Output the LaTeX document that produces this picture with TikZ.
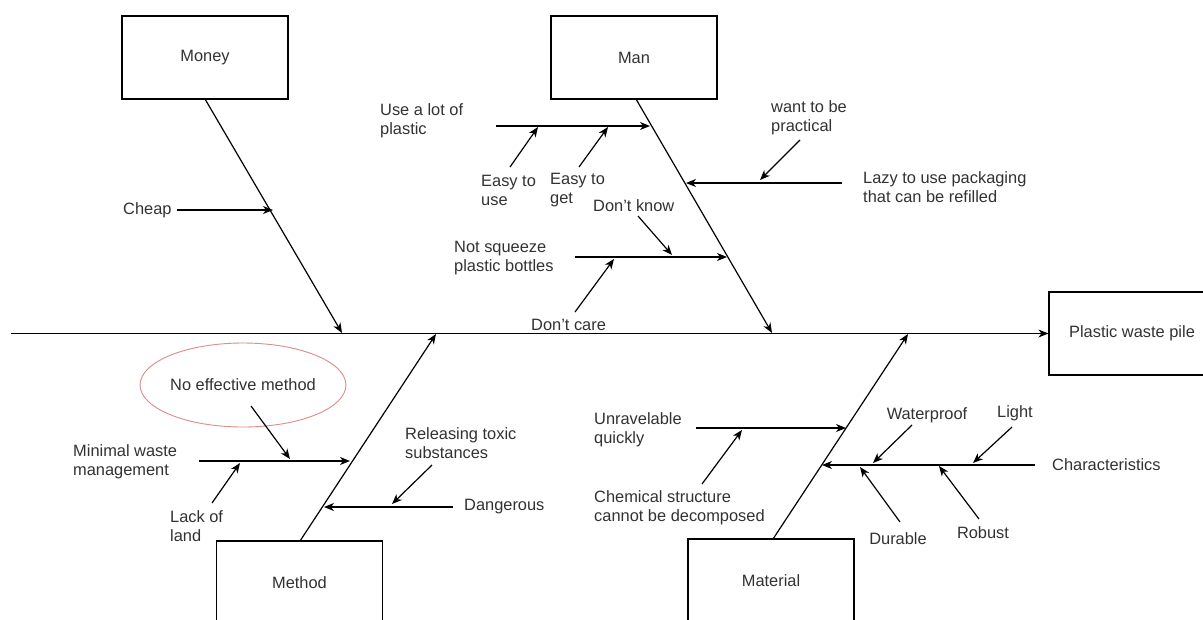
\documentclass[tikz,border=0pt]{standalone}
\usepackage{fontspec}
\setmainfont{Liberation Sans}
\usetikzlibrary{arrows.meta,shapes.geometric}
\definecolor{txt}{RGB}{50,50,50}
\definecolor{ellred}{RGB}{220,140,140}
\tikzset{
  lbl/.style={font=\fontsize{16.4}{19}\selectfont, text=txt, inner sep=0pt, align=left},
  cbox/.style={draw, line width=1.2pt, minimum width=166pt, minimum height=83pt, inner sep=0pt, font=\fontsize{16.4}{19}\selectfont, text=txt},
  arr/.style={line width=1.2pt, -{Stealth[length=10pt,width=8pt,inset=3pt]}},
  bone/.style={line width=1.2pt}
}
\begin{document}
\begin{tikzpicture}[x=1pt,y=-1pt]
\useasboundingbox (0,0) rectangle (1203,619);
\fill[white] (0,0) rectangle (1203,619);
\clip (0,0) rectangle (1203,619);

% category boxes
\node[cbox] (money) at (205,57.5) {Money};
\node[cbox] (man) at (634,57.5) {Man};
\node[cbox] (method) at (299.5,582.5) {Method};
\node[cbox] (material) at (771,580.5) {Material};
\node[cbox] (pile) at (1132,333.5) {Plastic waste pile};

% spine
\coordinate (tail) at (11,333.5);
\draw[arr] (tail) -- (pile.west);

% junctions on spine
\coordinate (jmoney) at (342,333);
\coordinate (jman) at (772,333);
\coordinate (jmethod) at (436,334);
\coordinate (jmaterial) at (908,334);
\coordinate (smoney) at (205,99);
\coordinate (sman) at (636,99);
\coordinate (smethod) at (300,541);
\coordinate (smaterial) at (773,539);
\draw[arr] (smoney) -- (jmoney);
\draw[arr] (sman) -- (jman);
\draw[arr] (smethod) -- (jmethod);
\draw[arr] (smaterial) -- (jmaterial);

% ---------- Money ----------
\node[lbl, anchor=west] (cheap) at (123,210) {Cheap};
\coordinate (cheapS) at (177,210);
\coordinate (cheapE) at (273,210);
\draw[arr] (cheapS) -- (cheapE);

% ---------- Man ----------
\node[lbl, anchor=west] (alot) at (380,121) {Use a lot of\\plastic};
\coordinate (alotS) at (496,126);
\coordinate (alotE) at (650,126);
\draw[arr] (alotS) -- (alotE);

\node[lbl, anchor=west] (easyuse) at (481,190) {Easy to\\use};
\coordinate (easyuseS) at (510,167);
\coordinate (easyuseE) at (538,127);
\draw[arr] (easyuseS) -- (easyuseE);

\node[lbl, anchor=west] (easyget) at (550,190) {Easy to\\get};
\coordinate (easygetS) at (579,167);
\coordinate (easygetE) at (608,127);
\draw[arr] (easygetS) -- (easygetE);

\node[lbl, anchor=west] (practical) at (771,118) {want to be\\practical};
\coordinate (practicalS) at (800,140);
\coordinate (practicalE) at (760,180);
\draw[arr] (practicalS) -- (practicalE);

\node[lbl, anchor=west] (lazy) at (863,187.5) {Lazy to use packaging\\that can be refilled};
\coordinate (lazyS) at (842,183);
\coordinate (lazyE) at (686,183);
\draw[arr] (lazyS) -- (lazyE);

\node[lbl, anchor=west] (dknow) at (593,206) {Don't know};
\coordinate (dknowS) at (638,216);
\coordinate (dknowE) at (672,255);
\draw[arr] (dknowS) -- (dknowE);

\node[lbl, anchor=west] (squeeze) at (454,258) {Not squeeze\\plastic bottles};
\coordinate (squeezeS) at (575,257);
\coordinate (squeezeE) at (727,257);
\draw[arr] (squeezeS) -- (squeezeE);

\node[lbl, anchor=west] (dcare) at (531,325) {Don't care};
\coordinate (dcareS) at (575,312);
\coordinate (dcareE) at (614,259);
\draw[arr] (dcareS) -- (dcareE);

% ---------- Method ----------
\node[ellipse, draw=ellred, line width=0.9pt, minimum width=194pt, minimum height=84pt, inner sep=0pt, font=\fontsize{16.4}{19}\selectfont, text=txt] (noeff) at (243,385) {No effective method};
\coordinate (noeffS) at (251,406);
\coordinate (noeffE) at (290,459);
\draw[arr] (noeffS) -- (noeffE);

\node[lbl, anchor=west] (minimal) at (73,461.5) {Minimal waste\\management};
\coordinate (minimalS) at (199,461);
\coordinate (minimalE) at (350,461);
\draw[arr] (minimalS) -- (minimalE);

\node[lbl, anchor=west] (lack) at (170,526.5) {Lack of\\land};
\coordinate (lackS) at (212,503);
\coordinate (lackE) at (240,463);
\draw[arr] (lackS) -- (lackE);

\node[lbl, anchor=west] (toxic) at (405,443.5) {Releasing toxic\\substances};
\coordinate (toxicS) at (432,465);
\coordinate (toxicE) at (392,504);
\draw[arr] (toxicS) -- (toxicE);

\node[lbl, anchor=west] (danger) at (464,507) {Dangerous};
\coordinate (dangerS) at (453,507);
\coordinate (dangerE) at (324,507);
\draw[arr] (dangerS) -- (dangerE);

% ---------- Material ----------
\node[lbl, anchor=west] (unrav) at (594,429.5) {Unravelable\\quickly};
\coordinate (unravS) at (696,428);
\coordinate (unravE) at (846,428);
\draw[arr] (unravS) -- (unravE);

\node[lbl, anchor=west] (chem) at (594,507.5) {Chemical structure\\cannot be decomposed};
\coordinate (chemS) at (702,484);
\coordinate (chemE) at (742,430);
\draw[arr] (chemS) -- (chemE);

\node[lbl, anchor=west] (charac) at (1052,465) {Characteristics};
\coordinate (characS) at (1035,465);
\coordinate (characE) at (822,465);
\draw[arr] (characS) -- (characE);

\node[lbl] (water) at (927,415) {Waterproof};
\coordinate (waterS) at (912,425);
\coordinate (waterE) at (873,463);
\draw[arr] (waterS) -- (waterE);

\node[lbl] (light) at (1015,413) {Light};
\coordinate (lightS) at (1012,427);
\coordinate (lightE) at (973,463);
\draw[arr] (lightS) -- (lightE);

\node[lbl] (durable) at (898,539) {Durable};
\coordinate (durableS) at (900,522);
\coordinate (durableE) at (860,467);
\draw[arr] (durableS) -- (durableE);

\node[lbl] (robust) at (983,533) {Robust};
\coordinate (robustS) at (979,519);
\coordinate (robustE) at (939,466);
\draw[arr] (robustS) -- (robustE);
\end{tikzpicture}
\end{document}
